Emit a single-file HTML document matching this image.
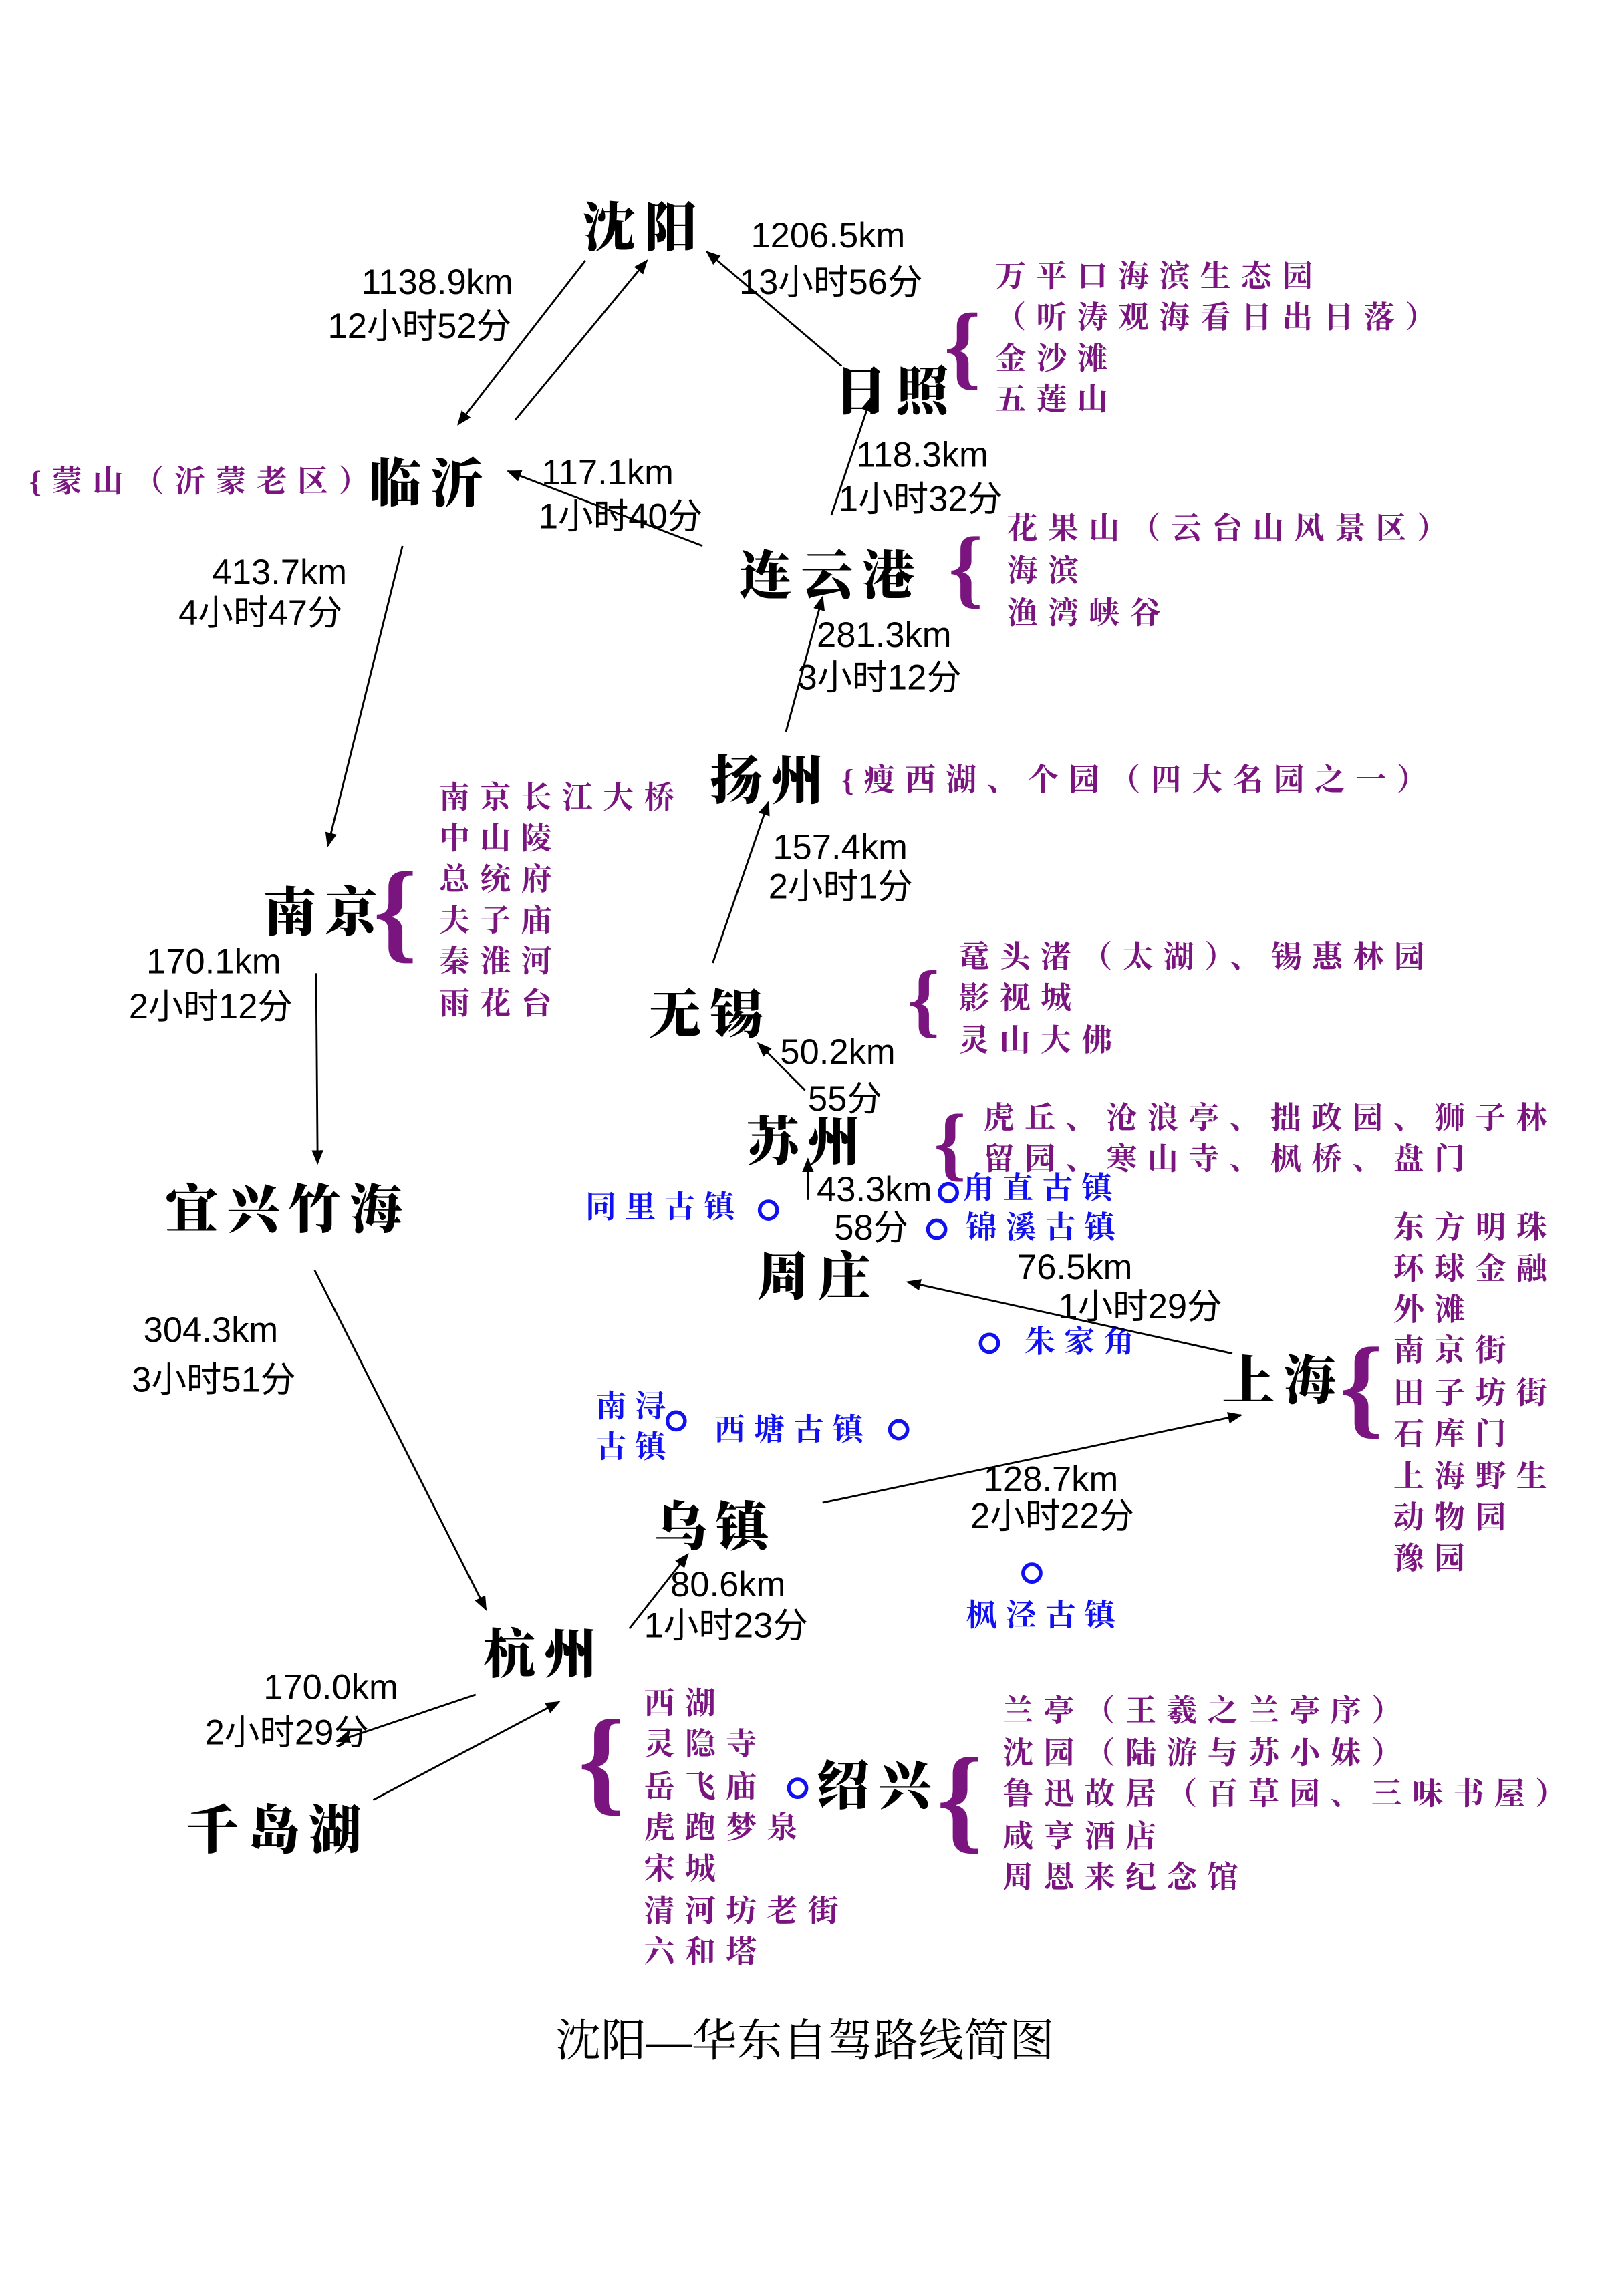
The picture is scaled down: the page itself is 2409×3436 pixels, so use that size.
<!DOCTYPE html>
<html><head><meta charset="utf-8"><style>
html,body{margin:0;padding:0;background:#fff;}
svg{display:block;}
.p{font-family:"Liberation Serif","Noto Serif CJK SC",serif;font-weight:900;fill:#000;font-size:36px;letter-spacing:6px}
.n{font-family:"Liberation Sans","Noto Sans CJK SC",sans-serif;fill:#000;font-size:24px}
.u{font-family:"Liberation Serif","Noto Serif CJK SC",serif;font-weight:700;fill:#7a1580;font-size:21px;letter-spacing:7px}
.b{font-family:"Liberation Serif","Noto Serif CJK SC",serif;font-weight:700;fill:#1010f0;font-size:21px;letter-spacing:6px}
.br{font-family:"Liberation Serif","Noto Serif CJK SC",serif;fill:#7a1580;font-weight:700}
line{stroke:#000;stroke-width:1.3;marker-end:url(#a)}
circle{fill:none;stroke:#1010f0;stroke-width:2.5}
</style></head><body>
<svg width="2409" height="3436" viewBox="0 0 1100 1569" preserveAspectRatio="none" xmlns="http://www.w3.org/2000/svg">
<defs><marker id="a" markerWidth="10" markerHeight="8" refX="9" refY="4" orient="auto" markerUnits="userSpaceOnUse"><path d="M0,0 L10,4 L0,8 z" fill="#000"/></marker></defs>
<rect width="1100" height="1569" fill="#fff"/>
<text class="p" x="398" y="168">沈阳</text>
<text class="p" x="570" y="280" font-size="32">日照</text>
<text class="p" x="252" y="343">临沂</text>
<text class="p" x="505" y="406">连云港</text>
<text class="p" x="485" y="546">扬州</text>
<text class="p" x="180" y="636">南京</text>
<text class="p" x="443" y="706">无锡</text>
<text class="p" x="510" y="793">苏州</text>
<text class="p" x="113" y="839">宜兴竹海</text>
<text class="p" x="517" y="885">周庄</text>
<text class="p" x="835" y="956">上海</text>
<text class="p" x="447" y="1056">乌镇</text>
<text class="p" x="330" y="1143">杭州</text>
<text class="p" x="127" y="1263">千岛湖</text>
<text class="p" x="558" y="1233">绍兴</text>
<text class="n" x="247" y="201">1138.9km</text><text class="n" x="224" y="231">12小时52分</text>
<text class="n" x="513" y="169">1206.5km</text><text class="n" x="505" y="201">13小时56分</text>
<text class="n" x="370" y="331">117.1km</text><text class="n" x="368" y="361">1小时40分</text>
<text class="n" x="585" y="319">118.3km</text><text class="n" x="573" y="349">1小时32分</text>
<text class="n" x="145" y="399">413.7km</text><text class="n" x="122" y="427">4小时47分</text>
<text class="n" x="558" y="442">281.3km</text><text class="n" x="545" y="471">3小时12分</text>
<text class="n" x="528" y="587">157.4km</text><text class="n" x="525" y="614">2小时1分</text>
<text class="n" x="100" y="665">170.1km</text><text class="n" x="88" y="696">2小时12分</text>
<text class="n" x="533" y="727">50.2km</text><text class="n" x="552" y="759">55分</text>
<text class="n" x="558" y="821">43.3km</text><text class="n" x="570" y="847">58分</text>
<text class="n" x="695" y="874">76.5km</text><text class="n" x="723" y="901">1小时29分</text>
<text class="n" x="98" y="917">304.3km</text><text class="n" x="90" y="951">3小时51分</text>
<text class="n" x="672" y="1019">128.7km</text><text class="n" x="663" y="1044">2小时22分</text>
<text class="n" x="458" y="1091">80.6km</text><text class="n" x="440" y="1119">1小时23分</text>
<text class="n" x="180" y="1161">170.0km</text><text class="n" x="140" y="1192">2小时29分</text>
<text class="u" x="680" y="196">万平口海滨生态园</text>
<text class="u" x="680" y="224">（听涛观海看日出日落）</text>
<text class="u" x="680" y="252">金沙滩</text>
<text class="u" x="680" y="280">五莲山</text>
<text class="br" x="645" y="258" font-size="64">{</text>
<text class="u" x="20" y="336">{蒙山（沂蒙老区）</text>
<text class="u" x="688" y="368">花果山（云台山风景区）</text>
<text class="u" x="688" y="397">海滨</text>
<text class="u" x="688" y="426">渔湾峡谷</text>
<text class="br" x="648" y="408" font-size="60">{</text>
<text class="u" x="575" y="540">{瘦西湖、个园（四大名园之一）</text>
<text class="u" x="300" y="552">南京长江大桥</text>
<text class="u" x="300" y="580">中山陵</text>
<text class="u" x="300" y="608">总统府</text>
<text class="u" x="300" y="636">夫子庙</text>
<text class="u" x="300" y="664">秦淮河</text>
<text class="u" x="300" y="693">雨花台</text>
<text class="br" x="255" y="648" font-size="76">{</text>
<text class="u" x="655" y="661">鼋头渚（太湖）、锡惠林园</text>
<text class="u" x="655" y="689">影视城</text>
<text class="u" x="655" y="718">灵山大佛</text>
<text class="br" x="620" y="702" font-size="56">{</text>
<text class="u" x="672" y="771">虎丘、沧浪亭、拙政园、狮子林</text>
<text class="u" x="672" y="799">留园、寒山寺、枫桥、盘门</text>
<text class="br" x="638" y="800" font-size="56">{</text>
<text class="u" x="952" y="846">东方明珠</text>
<text class="u" x="952" y="874">环球金融</text>
<text class="u" x="952" y="902">外滩</text>
<text class="u" x="952" y="930">南京街</text>
<text class="u" x="952" y="959">田子坊街</text>
<text class="u" x="952" y="987">石库门</text>
<text class="u" x="952" y="1016">上海野生</text>
<text class="u" x="952" y="1044">动物园</text>
<text class="u" x="952" y="1072">豫园</text>
<text class="br" x="915" y="973" font-size="76">{</text>
<text class="u" x="440" y="1171">西湖</text>
<text class="u" x="440" y="1199">灵隐寺</text>
<text class="u" x="440" y="1228">岳飞庙</text>
<text class="u" x="440" y="1256">虎跑梦泉</text>
<text class="u" x="440" y="1284">宋城</text>
<text class="u" x="440" y="1313">清河坊老街</text>
<text class="u" x="440" y="1341">六和塔</text>
<text class="br" x="395" y="1230" font-size="80">{</text>
<text class="u" x="685" y="1176">兰亭（王羲之兰亭序）</text>
<text class="u" x="685" y="1205">沈园（陆游与苏小妹）</text>
<text class="u" x="685" y="1233">鲁迅故居（百草园、三味书屋）</text>
<text class="u" x="685" y="1262">咸亨酒店</text>
<text class="u" x="685" y="1290">周恩来纪念馆</text>
<text class="br" x="640" y="1256" font-size="80">{</text>
<text class="b" x="400" y="832">同里古镇</text><circle cx="525" cy="827" r="6"/>
<text class="b" x="658" y="819">甪直古镇</text><circle cx="648" cy="815" r="6"/>
<circle cx="640" cy="840" r="6"/><text class="b" x="660" y="846">锦溪古镇</text>
<circle cx="676" cy="918" r="6"/><text class="b" x="700" y="924">朱家角</text>
<text class="b" x="407" y="968">南浔</text><text class="b" x="407" y="996">古镇</text><circle cx="462" cy="971" r="6"/>
<text class="b" x="488" y="984">西塘古镇</text><circle cx="614" cy="977" r="6"/>
<circle cx="705" cy="1075" r="6"/><text class="b" x="660" y="1111">枫泾古镇</text>
<circle cx="545" cy="1222" r="6"/>
<line x1="400" y1="178" x2="313" y2="290"/>
<line x1="352" y1="287" x2="442" y2="178"/>
<line x1="575" y1="250" x2="483" y2="172"/>
<line x1="568" y1="352" x2="595" y2="272"/>
<line x1="480" y1="373" x2="347" y2="322"/>
<line x1="537" y1="500" x2="562" y2="408"/>
<line x1="275" y1="373" x2="224" y2="578"/>
<line x1="487" y1="658" x2="525" y2="548"/>
<line x1="550" y1="745" x2="518" y2="713"/>
<line x1="552" y1="820" x2="552" y2="792"/>
<line x1="216" y1="665" x2="217" y2="795"/>
<line x1="842" y1="925" x2="620" y2="876"/>
<line x1="562" y1="1027" x2="848" y2="967"/>
<line x1="215" y1="868" x2="332" y2="1100"/>
<line x1="430" y1="1113" x2="470" y2="1062"/>
<line x1="325" y1="1158" x2="230" y2="1190"/>
<line x1="255" y1="1230" x2="382" y2="1163"/>
<text x="550" y="1405" text-anchor="middle" font-family="'Liberation Serif','Noto Serif CJK SC',serif" font-size="31" fill="#000">沈阳—华东自驾路线简图</text>
</svg>
</body></html>
